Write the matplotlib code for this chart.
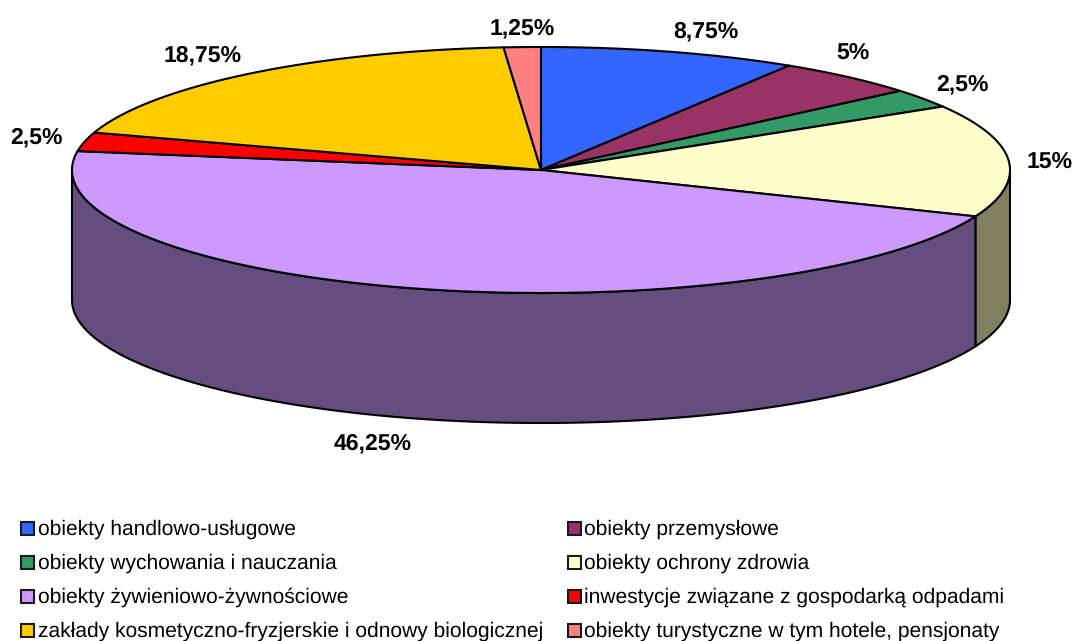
import numpy as np
import matplotlib
matplotlib.use("Agg")
import matplotlib.pyplot as plt
from matplotlib.patches import Polygon, Rectangle

plt.rcParams['font.family'] = ['Liberation Sans', 'DejaVu Sans']
plt.rcParams['text.hinting'] = 'none'
plt.rcParams['text.hinting_factor'] = 1

categories = [
    "obiekty handlowo-usługowe",
    "obiekty przemysłowe",
    "obiekty wychowania i nauczania",
    "obiekty ochrony zdrowia",
    "obiekty żywieniowo-żywnościowe",
    "inwestycje związane z gospodarką odpadami",
    "zakłady kosmetyczno-fryzjerskie i odnowy biologicznej",
    "obiekty turystyczne w tym hotele, pensjonaty",
]
shares = [8.75, 5, 2.5, 15, 46.25, 2.5, 18.75, 1.25]
share_labels = ["8,75%", "5%", "2,5%", "15%", "46,25%", "2,5%", "18,75%", "1,25%"]
top_colors = ["#3366FF", "#993366", "#339966", "#FFFFCC", "#CC99FF", "#FF0000", "#FFCC00", "#FF8080"]
side_colors = {3: "#808060", 4: "#664D80"}
label_xy = [(706, 31), (853, 53), (962, 84), (1050, 162), (373, 443), (36, 137), (203, 55), (522, 28)]

W, H = 1074, 641
CX, CY, RX, RY, DEPTH = 541, 170, 469, 123, 130

fig = plt.figure(figsize=(W / 100, H / 100), dpi=100)
ax = fig.add_axes([0, 0, 1, 1])
ax.set_xlim(0, W)
ax.set_ylim(H, 0)
ax.axis("off")


def tilt(a):
    """Slight angular skew from the tilted view of the disc."""
    return a + 0.5 * np.sin(np.radians(2 * a))


def rim(a0, a1, dy=0.0):
    """Ellipse points between two clockwise angles measured from twelve o'clock."""
    t = np.radians(np.linspace(tilt(a0), tilt(a1), max(int(abs(a1 - a0) * 3), 2)))
    return np.column_stack([CX + RX * np.sin(t), CY - RY * np.cos(t) + dy])


edges = np.concatenate([[0], np.cumsum(shares)]) * 3.6
LINE = dict(edgecolor="black", linewidth=1.5, joinstyle="round")

# Visible outer wall of the disc: only the front half (90 to 270 degrees)
for i, color in side_colors.items():
    a0, a1 = max(edges[i], 90), min(edges[i + 1], 270)
    wall = np.vstack([rim(a0, a1), rim(a0, a1, DEPTH)[::-1]])
    ax.add_patch(Polygon(wall, closed=True, facecolor=color, zorder=1, **LINE))

# Top face wedges
for i, color in enumerate(top_colors):
    wedge = np.vstack([[CX, CY], rim(edges[i], edges[i + 1])])
    ax.add_patch(Polygon(wedge, closed=True, facecolor=color, zorder=2, **LINE))

# Percentage labels
for (x, y), text in zip(label_xy, share_labels):
    ax.text(x, y, text, ha="center", va="center", fontsize=16.7, fontweight="bold", color="black")

# Two-column legend, filled row by row
col_x = [20.5, 567.5]
row_y = [528.5, 562.5, 596, 630]
for i, (name, color) in enumerate(zip(categories, top_colors)):
    x, y = col_x[i % 2], row_y[i // 2]
    ax.add_patch(Rectangle((x, y - 6.5), 13, 13, facecolor=color, edgecolor="#1a1a1a", linewidth=1.5))
    ax.text(x + 17, y + 1, name, ha="left", va="center", fontsize=15, color="black")

fig.savefig("out.png", dpi=100, facecolor="white")
